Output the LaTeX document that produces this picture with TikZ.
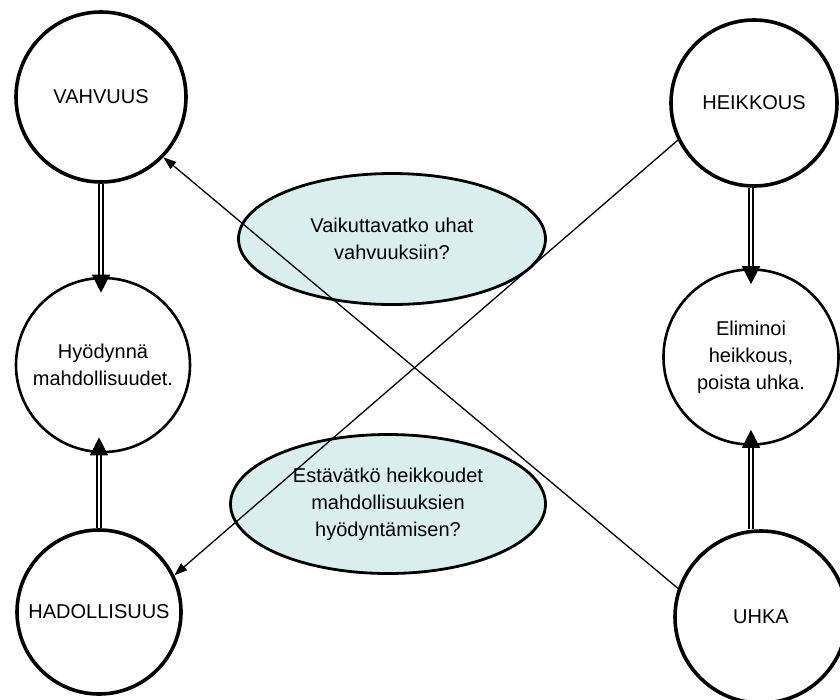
\documentclass[tikz,border=0pt]{standalone}
\usepackage{fontspec}
\setmainfont{Liberation Sans}
\usetikzlibrary{arrows.meta,shapes.geometric,calc}
\definecolor{qfill}{RGB}{218,238,240}
\begin{document}
\begin{tikzpicture}[x=1pt,y=-1pt,
  lbl/.style={inner sep=0pt,align=center,font=\fontsize{20}{27}\selectfont},
  bigc/.style={lbl,circle,draw,line width=3.6pt},
  midc/.style={lbl,circle,draw,line width=2.6pt},
  quest/.style={lbl,ellipse,draw,line width=2.8pt,fill=qfill},
  thinarrow/.style={line width=1.3pt,-{Triangle[length=13pt,width=9pt]}},
  dblarrow/.style={double,line width=1.3pt,double distance=2.6pt,
     -{Triangle[length=18pt,width=18pt]},shorten >=-16pt}]
\useasboundingbox (0,0) rectangle (840,699);
\clip (0,0) rectangle (840,699);
\fill[white] (0,0) rectangle (840,699);
% circles
\node[bigc, minimum size=170pt] (vah) at (101,97)  {VAHVUUS};
\node[bigc, minimum size=166pt] (hei) at (754,103) {HEIKKOUS};
\node[midc, minimum size=174pt] (hyo) at (103,365) {Hyödynnä\\mahdollisuudet.};
\node[midc, minimum size=166pt] (eli) at (751,357) {\raisebox{-7pt}{\parbox{160pt}{\centering Eliminoi\\heikkous,\\poista uhka.}}};
\node[bigc, minimum size=164pt] (had) at (99,612)  {HADOLLISUUS};
\node[bigc, minimum size=172pt] (uhk) at (761,617) {UHKA};
% question ellipses
\node[quest, minimum width=307pt, minimum height=131pt] (q1) at (392,239) {Vaikuttavatko uhat\\vahvuuksiin?};
\node[quest, minimum width=315pt, minimum height=139pt] (q2) at (388,504) {Estävätkö heikkoudet\\mahdollisuuksien\\hyödyntämisen?};
% crossing connectors
\draw[thinarrow] (uhk.161) -- (vah.-44);
\draw[thinarrow] (hei.206) -- (had.26);
% double arrows
\draw[dblarrow] (vah.south) -- (vah.south |- hyo.north);
\draw[dblarrow] (had.north) -- (had.north |- hyo.south);
\draw[dblarrow] (hei.south -| eli.north) -- (eli.north);
\draw[dblarrow] (uhk.north -| eli.south) -- (eli.south);
\end{tikzpicture}
\end{document}
